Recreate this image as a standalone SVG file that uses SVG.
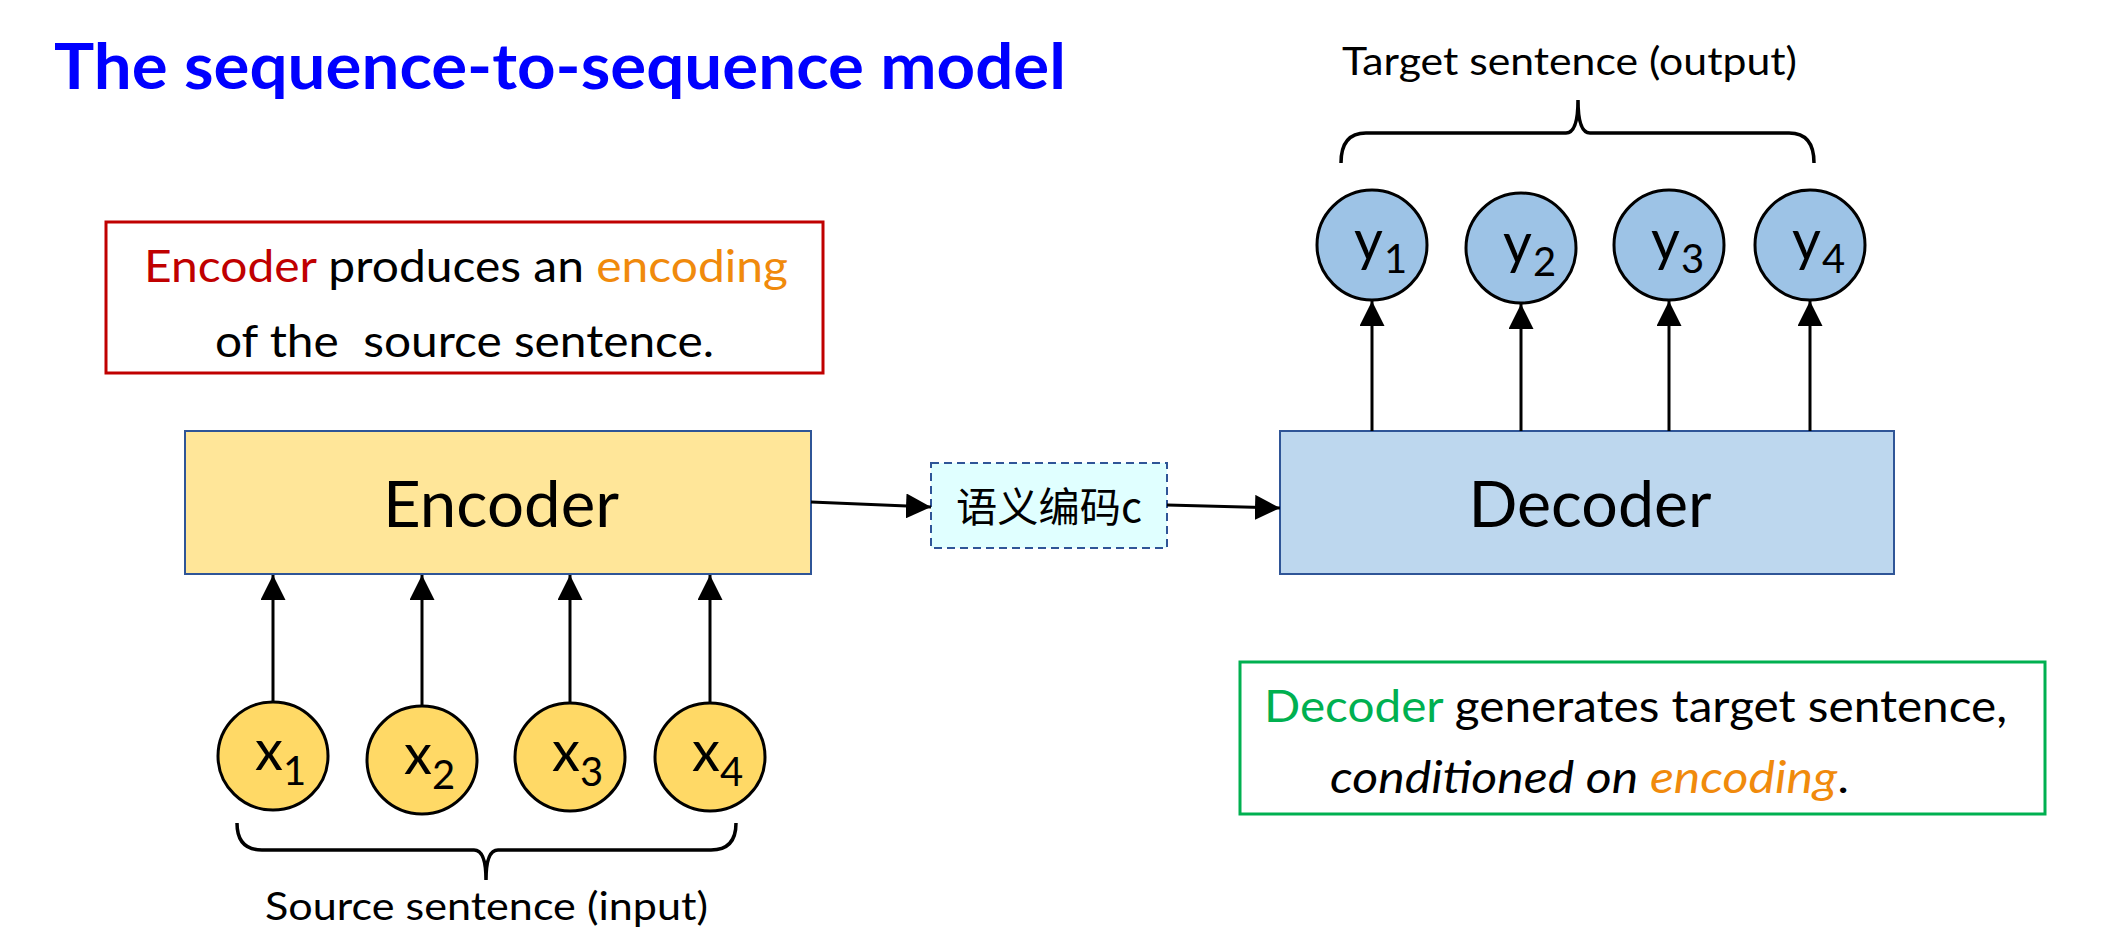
<svg xmlns="http://www.w3.org/2000/svg" width="2117" height="943" viewBox="0 0 2117 943">
<style>
  text { font-family: Lato, "Open Sans", "Liberation Sans", sans-serif; fill: #000; }
  .title { font-size: 64px; font-weight: bold; fill: #0000FF; }
  .note { font-size: 45px; }
  .big { font-size: 63px; text-anchor: middle; }
  .lbl { font-size: 39px; }
  .var { font-size: 56px; }
  .sub { font-size: 40px; }
  .cjk { font-family: "Noto Sans CJK SC", sans-serif; font-size: 41px; }
  .red { fill: #C00000; }
  .org { fill: #F08A0C; }
  .grn { fill: #00B050; }
  .blk { fill: #000; }
  .xin { fill: #FFD966; stroke: #000; stroke-width: 3; }
  .yout { fill: #9DC3E6; stroke: #000; stroke-width: 3; }
  .edge { stroke: #000; stroke-width: 3; fill: none; marker-end: url(#ah); }
  .brace { stroke: #000; stroke-width: 3.5; fill: none; }
</style>
<defs>
  <marker id="ah" markerUnits="userSpaceOnUse" markerWidth="25" markerHeight="25" refX="25" refY="12.5" orient="auto">
    <path d="M0,0 L25,12.5 L0,25 Z" fill="#000"/>
  </marker>
</defs>
<rect x="0" y="0" width="2117" height="943" fill="#fff"/>

<g id="title">
  <text class="title" x="54" y="89" textLength="1012" lengthAdjust="spacingAndGlyphs">The sequence-to-sequence model</text>
</g>

<g id="encoder-note">
  <rect x="106" y="222" width="717" height="151" fill="#fff" stroke="#C00000" stroke-width="3"/>
  <text class="note" x="144" y="282" textLength="644" lengthAdjust="spacingAndGlyphs"><tspan class="red">Encoder</tspan> produces an <tspan class="org">encoding</tspan></text>
  <text class="note" x="215" y="357" textLength="499" lengthAdjust="spacingAndGlyphs" style="white-space:pre">of the  source sentence.</text>
</g>

<g id="encoder">
  <rect x="185" y="431" width="626" height="143" fill="#FFE699" stroke="#2F5597" stroke-width="2"/>
  <text class="big" x="501" y="527" textLength="236" lengthAdjust="spacingAndGlyphs">Encoder</text>
</g>

<g id="semantic-code">
  <rect x="931" y="463" width="236" height="85" fill="#E0FFFF" stroke="#2F5597" stroke-width="2" stroke-dasharray="8 5"/>
  <text class="cjk" x="956" y="522" textLength="186" lengthAdjust="spacingAndGlyphs">语义编码c</text>
</g>

<g id="decoder">
  <rect x="1280" y="431" width="614" height="143" fill="#BDD7EE" stroke="#2F5597" stroke-width="2"/>
  <text class="big" x="1590" y="527" textLength="243" lengthAdjust="spacingAndGlyphs">Decoder</text>
</g>

<g id="decoder-note">
  <rect x="1240" y="662" width="805" height="152" fill="#fff" stroke="#00B050" stroke-width="3"/>
  <text class="note" x="1264" y="722" textLength="743" lengthAdjust="spacingAndGlyphs"><tspan class="grn">Decoder</tspan> generates target sentence,</text>
  <text class="note" x="1330" y="793" textLength="519" lengthAdjust="spacingAndGlyphs"><tspan font-style="italic">conditioned on </tspan><tspan font-style="italic" class="org">encoding</tspan>.</text>
</g>

<g id="x1"><ellipse class="xin" cx="273" cy="756" rx="55" ry="54"/><text class="var" x="255" y="770">x</text><text class="sub" x="283" y="785">1</text></g>
<g id="x2"><ellipse class="xin" cx="422" cy="760" rx="55" ry="54"/><text class="var" x="404" y="774">x</text><text class="sub" x="432" y="789">2</text></g>
<g id="x3"><ellipse class="xin" cx="570" cy="757" rx="55" ry="54"/><text class="var" x="552" y="771">x</text><text class="sub" x="580" y="786">3</text></g>
<g id="x4"><ellipse class="xin" cx="710" cy="757" rx="55" ry="54"/><text class="var" x="692" y="771">x</text><text class="sub" x="720" y="786">4</text></g>

<g id="y1"><ellipse class="yout" cx="1372" cy="245" rx="55" ry="55"/><text class="var" x="1354" y="260">y</text><text class="sub" x="1384" y="273">1</text></g>
<g id="y2"><ellipse class="yout" cx="1521" cy="248" rx="55" ry="55"/><text class="var" x="1503" y="263">y</text><text class="sub" x="1533" y="276">2</text></g>
<g id="y3"><ellipse class="yout" cx="1669" cy="245" rx="55" ry="55"/><text class="var" x="1651" y="260">y</text><text class="sub" x="1681" y="273">3</text></g>
<g id="y4"><ellipse class="yout" cx="1810" cy="245" rx="55" ry="55"/><text class="var" x="1792" y="260">y</text><text class="sub" x="1822" y="273">4</text></g>

<g id="source-label">
  <path class="brace" d="M237,823 Q237,850 262,850 L474,850 Q486,850 486,880 Q486,850 498,850 L711,850 Q736,850 736,823"/>
  <text class="lbl" x="265" y="920" textLength="443" lengthAdjust="spacingAndGlyphs">Source sentence (input)</text>
</g>

<g id="target-label">
  <path class="brace" d="M1341,163 Q1341,133 1366,133 L1566,133 Q1578,133 1578,100 Q1578,133 1590,133 L1789,133 Q1814,133 1814,163"/>
  <text class="lbl" x="1342" y="75" textLength="455" lengthAdjust="spacingAndGlyphs">Target sentence (output)</text>
</g>

<g id="connectors">
  <line class="edge" x1="273" y1="702" x2="273" y2="575"/>
  <line class="edge" x1="422" y1="706" x2="422" y2="575"/>
  <line class="edge" x1="570" y1="703" x2="570" y2="575"/>
  <line class="edge" x1="710" y1="703" x2="710" y2="575"/>
  <line class="edge" x1="811" y1="502" x2="931" y2="507"/>
  <line class="edge" x1="1167" y1="505" x2="1280" y2="508"/>
  <line class="edge" x1="1372" y1="431" x2="1372" y2="301"/>
  <line class="edge" x1="1521" y1="431" x2="1521" y2="304"/>
  <line class="edge" x1="1669" y1="431" x2="1669" y2="301"/>
  <line class="edge" x1="1810" y1="431" x2="1810" y2="301"/>
</g>
</svg>
